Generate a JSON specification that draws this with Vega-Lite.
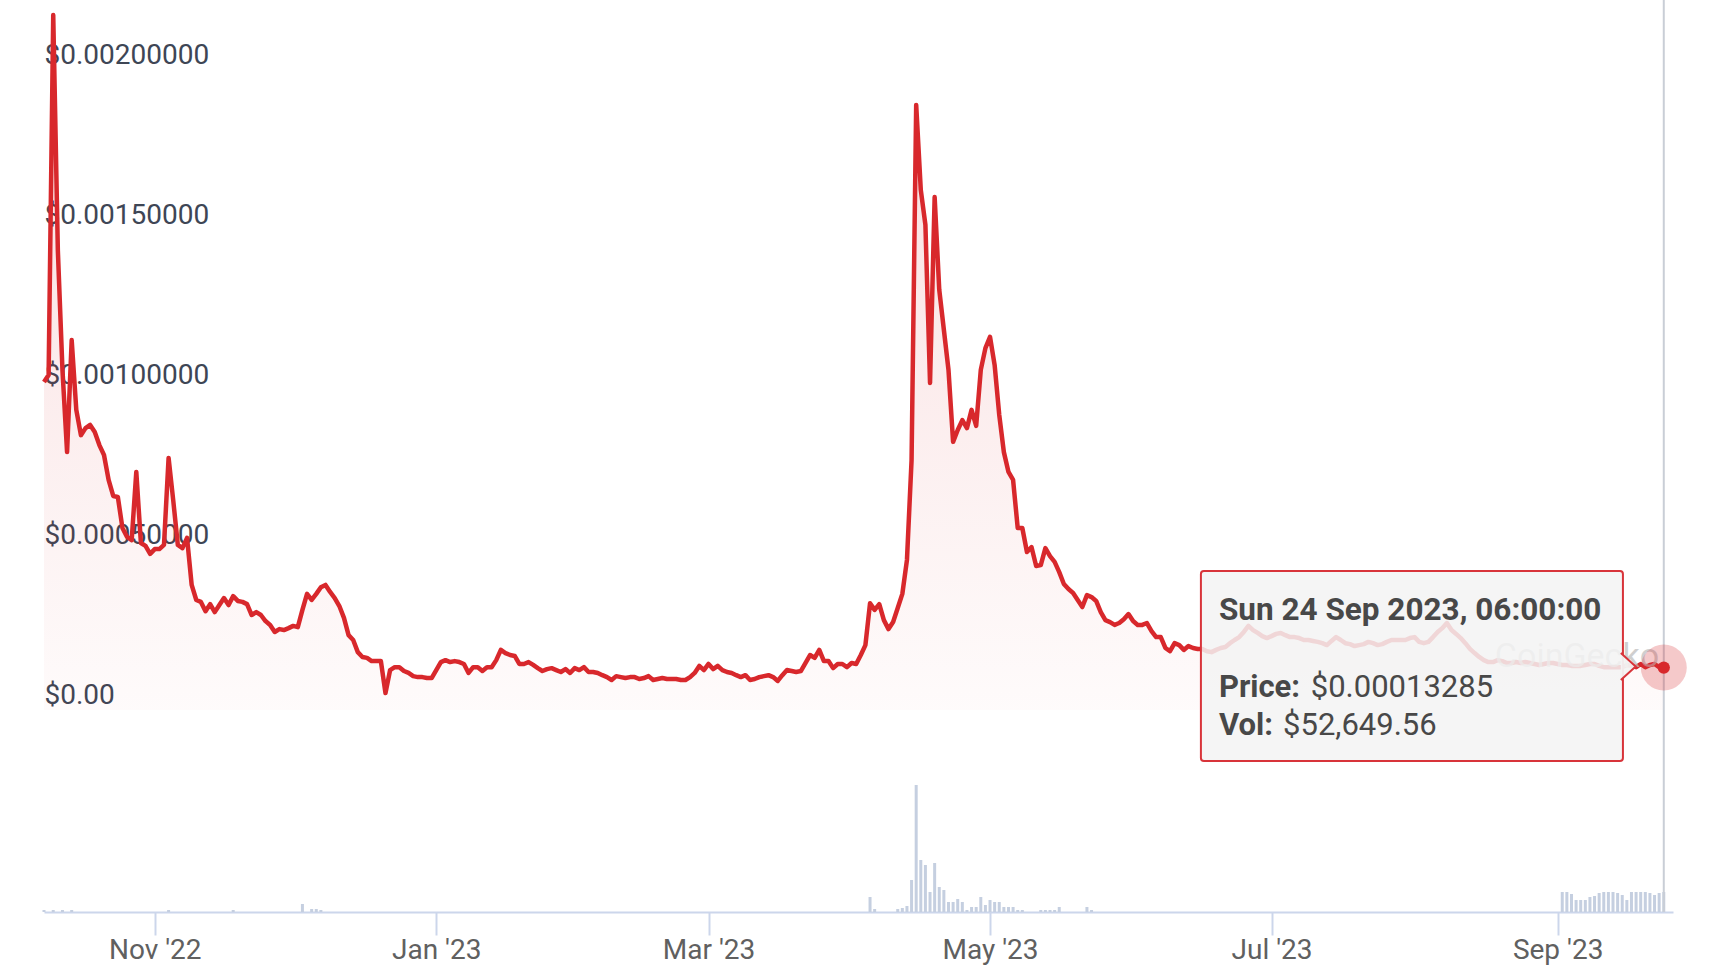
{
  "$schema": "https://vega.github.io/schema/vega-lite/v6.json",
  "width": 1629,
  "height": 912,
  "padding": {"left": 44, "top": 0, "right": 58, "bottom": 62},
  "autosize": {"type": "none"},
  "background": "#ffffff",
  "config": {"view": {"stroke": null}, "font": "Roboto", "text": {"font": "Roboto"}},
  "datasets": {
    "price": [
      {"d":"2022-10-08","p":0.001025},{"d":"2022-10-09","p":0.001047},{"d":"2022-10-10","p":0.002172},{"d":"2022-10-11","p":0.001437},{"d":"2022-10-12","p":0.001063},{"d":"2022-10-13","p":0.000806},{"d":"2022-10-14","p":0.001156},{"d":"2022-10-15","p":0.000938},{"d":"2022-10-16","p":0.000859},{"d":"2022-10-17","p":0.000881},{"d":"2022-10-18","p":0.000891},{"d":"2022-10-19","p":0.000869},{"d":"2022-10-20","p":0.000828},{"d":"2022-10-21","p":0.000797},{"d":"2022-10-22","p":0.000719},{"d":"2022-10-23","p":0.000669},{"d":"2022-10-24","p":0.000666},{"d":"2022-10-25","p":0.000569},{"d":"2022-10-26","p":0.000541},{"d":"2022-10-27","p":0.000531},{"d":"2022-10-28","p":0.000744},{"d":"2022-10-29","p":0.000522},{"d":"2022-10-30","p":0.000513},{"d":"2022-10-31","p":0.000488},
      {"d":"2022-11-01","p":0.000503},{"d":"2022-11-02","p":0.000503},{"d":"2022-11-03","p":0.000516},{"d":"2022-11-04","p":0.000788},{"d":"2022-11-05","p":0.000656},{"d":"2022-11-06","p":0.000516},{"d":"2022-11-07","p":0.000506},{"d":"2022-11-08","p":0.000538},{"d":"2022-11-09","p":0.000391},{"d":"2022-11-10","p":0.000344},{"d":"2022-11-11","p":0.000338},{"d":"2022-11-12","p":0.000309},{"d":"2022-11-13","p":0.000331},{"d":"2022-11-14","p":0.000306},{"d":"2022-11-15","p":0.000328},{"d":"2022-11-16","p":0.00035},{"d":"2022-11-17","p":0.000328},{"d":"2022-11-18","p":0.000356},{"d":"2022-11-19","p":0.000341},{"d":"2022-11-20","p":0.000338},{"d":"2022-11-21","p":0.000331},{"d":"2022-11-22","p":0.000297},{"d":"2022-11-23","p":0.000306},{"d":"2022-11-24","p":0.000297},{"d":"2022-11-25","p":0.000278},{"d":"2022-11-26","p":0.000266},{"d":"2022-11-27","p":0.000244},{"d":"2022-11-28","p":0.000253},{"d":"2022-11-29","p":0.00025},{"d":"2022-11-30","p":0.000256},
      {"d":"2022-12-01","p":0.000263},{"d":"2022-12-02","p":0.000259},{"d":"2022-12-03","p":0.000313},{"d":"2022-12-04","p":0.000363},{"d":"2022-12-05","p":0.000344},{"d":"2022-12-06","p":0.000363},{"d":"2022-12-07","p":0.000384},{"d":"2022-12-08","p":0.000391},{"d":"2022-12-09","p":0.000369},{"d":"2022-12-10","p":0.00035},{"d":"2022-12-11","p":0.000325},{"d":"2022-12-12","p":0.000288},{"d":"2022-12-13","p":0.000234},{"d":"2022-12-14","p":0.000219},{"d":"2022-12-15","p":0.000181},{"d":"2022-12-16","p":0.000166},{"d":"2022-12-17","p":0.000163},{"d":"2022-12-18","p":0.000153},{"d":"2022-12-19","p":0.000153},{"d":"2022-12-20","p":0.000153},{"d":"2022-12-21","p":0.000053},{"d":"2022-12-22","p":0.000125},{"d":"2022-12-23","p":0.000134},{"d":"2022-12-24","p":0.000134},{"d":"2022-12-25","p":0.000122},{"d":"2022-12-26","p":0.000116},{"d":"2022-12-27","p":0.000106},{"d":"2022-12-28","p":0.000103},{"d":"2022-12-29","p":0.000103},{"d":"2022-12-30","p":0.0001},{"d":"2022-12-31","p":0.0001},
      {"d":"2023-01-01","p":0.000125},{"d":"2023-01-02","p":0.00015},{"d":"2023-01-03","p":0.000156},{"d":"2023-01-04","p":0.00015},{"d":"2023-01-05","p":0.000153},{"d":"2023-01-06","p":0.00015},{"d":"2023-01-07","p":0.000144},{"d":"2023-01-08","p":0.000116},{"d":"2023-01-09","p":0.000134},{"d":"2023-01-10","p":0.000134},{"d":"2023-01-11","p":0.000122},{"d":"2023-01-12","p":0.000134},{"d":"2023-01-13","p":0.000134},{"d":"2023-01-14","p":0.000156},{"d":"2023-01-15","p":0.000188},{"d":"2023-01-16","p":0.000178},{"d":"2023-01-17","p":0.000172},{"d":"2023-01-18","p":0.000169},{"d":"2023-01-19","p":0.000144},{"d":"2023-01-20","p":0.000144},{"d":"2023-01-21","p":0.00015},{"d":"2023-01-22","p":0.000141},{"d":"2023-01-23","p":0.000131},{"d":"2023-01-24","p":0.000122},{"d":"2023-01-25","p":0.000128},{"d":"2023-01-26","p":0.000131},{"d":"2023-01-27","p":0.000125},{"d":"2023-01-28","p":0.000119},{"d":"2023-01-29","p":0.000128},{"d":"2023-01-30","p":0.000116},{"d":"2023-01-31","p":0.000131},
      {"d":"2023-02-01","p":0.000125},{"d":"2023-02-02","p":0.000134},{"d":"2023-02-03","p":0.000119},{"d":"2023-02-04","p":0.000119},{"d":"2023-02-05","p":0.000116},{"d":"2023-02-06","p":0.000109},{"d":"2023-02-07","p":0.000103},{"d":"2023-02-08","p":0.000094},{"d":"2023-02-09","p":0.000106},{"d":"2023-02-10","p":0.000103},{"d":"2023-02-11","p":0.0001},{"d":"2023-02-12","p":0.000103},{"d":"2023-02-13","p":0.000103},{"d":"2023-02-14","p":0.000097},{"d":"2023-02-15","p":0.0001},{"d":"2023-02-16","p":0.000106},{"d":"2023-02-17","p":0.000094},{"d":"2023-02-18","p":0.000097},{"d":"2023-02-19","p":0.0001},{"d":"2023-02-20","p":0.000097},{"d":"2023-02-21","p":0.000097},{"d":"2023-02-22","p":0.000097},{"d":"2023-02-23","p":0.000094},{"d":"2023-02-24","p":0.000094},{"d":"2023-02-25","p":0.000103},{"d":"2023-02-26","p":0.000116},{"d":"2023-02-27","p":0.000138},{"d":"2023-02-28","p":0.000125},
      {"d":"2023-03-01","p":0.000144},{"d":"2023-03-02","p":0.000128},{"d":"2023-03-03","p":0.000138},{"d":"2023-03-04","p":0.000125},{"d":"2023-03-05","p":0.000119},{"d":"2023-03-06","p":0.000116},{"d":"2023-03-07","p":0.000109},{"d":"2023-03-08","p":0.000103},{"d":"2023-03-09","p":0.000109},{"d":"2023-03-10","p":0.000094},{"d":"2023-03-11","p":0.000097},{"d":"2023-03-12","p":0.000103},{"d":"2023-03-13","p":0.000106},{"d":"2023-03-14","p":0.000109},{"d":"2023-03-15","p":0.000103},{"d":"2023-03-16","p":0.000091},{"d":"2023-03-17","p":0.000109},{"d":"2023-03-18","p":0.000125},{"d":"2023-03-19","p":0.000122},{"d":"2023-03-20","p":0.000119},{"d":"2023-03-21","p":0.000122},{"d":"2023-03-22","p":0.000147},{"d":"2023-03-23","p":0.000172},{"d":"2023-03-24","p":0.000163},{"d":"2023-03-25","p":0.000188},{"d":"2023-03-26","p":0.000153},{"d":"2023-03-27","p":0.000153},{"d":"2023-03-28","p":0.000131},{"d":"2023-03-29","p":0.000144},{"d":"2023-03-30","p":0.000144},{"d":"2023-03-31","p":0.000134},
      {"d":"2023-04-01","p":0.000147},{"d":"2023-04-02","p":0.000144},{"d":"2023-04-03","p":0.000172},{"d":"2023-04-04","p":0.000203},{"d":"2023-04-05","p":0.000334},{"d":"2023-04-06","p":0.000313},{"d":"2023-04-07","p":0.000331},{"d":"2023-04-08","p":0.000281},{"d":"2023-04-09","p":0.000253},{"d":"2023-04-10","p":0.000275},{"d":"2023-04-11","p":0.000319},{"d":"2023-04-12","p":0.000363},{"d":"2023-04-13","p":0.000469},{"d":"2023-04-14","p":0.000781},{"d":"2023-04-15","p":0.001891},{"d":"2023-04-16","p":0.001625},{"d":"2023-04-17","p":0.001516},{"d":"2023-04-18","p":0.001022},{"d":"2023-04-19","p":0.001603},{"d":"2023-04-20","p":0.001313},{"d":"2023-04-21","p":0.001188},{"d":"2023-04-22","p":0.001063},{"d":"2023-04-23","p":0.000838},{"d":"2023-04-24","p":0.000875},{"d":"2023-04-25","p":0.000906},{"d":"2023-04-26","p":0.000881},{"d":"2023-04-27","p":0.000938},{"d":"2023-04-28","p":0.000888},{"d":"2023-04-29","p":0.001063},{"d":"2023-04-30","p":0.001131},
      {"d":"2023-05-01","p":0.001166},{"d":"2023-05-02","p":0.001078},{"d":"2023-05-03","p":0.000922},{"d":"2023-05-04","p":0.000806},{"d":"2023-05-05","p":0.000744},{"d":"2023-05-06","p":0.000719},{"d":"2023-05-07","p":0.000569},{"d":"2023-05-08","p":0.000569},{"d":"2023-05-09","p":0.000494},{"d":"2023-05-10","p":0.000509},{"d":"2023-05-11","p":0.00045},{"d":"2023-05-12","p":0.000453},{"d":"2023-05-13","p":0.000506},{"d":"2023-05-14","p":0.000481},{"d":"2023-05-15","p":0.000463},{"d":"2023-05-16","p":0.000431},{"d":"2023-05-17","p":0.000394},{"d":"2023-05-18","p":0.000378},{"d":"2023-05-19","p":0.000366},{"d":"2023-05-20","p":0.000344},{"d":"2023-05-21","p":0.000322},{"d":"2023-05-22","p":0.000359},{"d":"2023-05-23","p":0.000353},{"d":"2023-05-24","p":0.000341},{"d":"2023-05-25","p":0.000306},{"d":"2023-05-26","p":0.000281},{"d":"2023-05-27","p":0.000275},{"d":"2023-05-28","p":0.000266},{"d":"2023-05-29","p":0.000272},{"d":"2023-05-30","p":0.000284},{"d":"2023-05-31","p":0.0003},
      {"d":"2023-06-01","p":0.000278},{"d":"2023-06-02","p":0.000266},{"d":"2023-06-03","p":0.000266},{"d":"2023-06-04","p":0.000272},{"d":"2023-06-05","p":0.000247},{"d":"2023-06-06","p":0.000228},{"d":"2023-06-07","p":0.000228},{"d":"2023-06-08","p":0.000194},{"d":"2023-06-09","p":0.000184},{"d":"2023-06-10","p":0.000209},{"d":"2023-06-11","p":0.000203},{"d":"2023-06-12","p":0.000188},{"d":"2023-06-13","p":0.0002},{"d":"2023-06-14","p":0.000194},{"d":"2023-06-15","p":0.000191},{"d":"2023-06-16","p":0.000191},{"d":"2023-06-17","p":0.000184},{"d":"2023-06-18","p":0.000181},{"d":"2023-06-19","p":0.000188},{"d":"2023-06-20","p":0.000194},{"d":"2023-06-21","p":0.000197},{"d":"2023-06-22","p":0.000209},{"d":"2023-06-23","p":0.000219},{"d":"2023-06-24","p":0.000228},{"d":"2023-06-25","p":0.000244},{"d":"2023-06-26","p":0.000263},{"d":"2023-06-27","p":0.00025},{"d":"2023-06-28","p":0.000241},{"d":"2023-06-29","p":0.000231},{"d":"2023-06-30","p":0.000225},
      {"d":"2023-07-01","p":0.000231},{"d":"2023-07-02","p":0.000238},{"d":"2023-07-03","p":0.000241},{"d":"2023-07-04","p":0.000234},{"d":"2023-07-05","p":0.000228},{"d":"2023-07-06","p":0.000228},{"d":"2023-07-07","p":0.000225},{"d":"2023-07-08","p":0.000219},{"d":"2023-07-09","p":0.000219},{"d":"2023-07-10","p":0.000216},{"d":"2023-07-11","p":0.000213},{"d":"2023-07-12","p":0.000209},{"d":"2023-07-13","p":0.000203},{"d":"2023-07-14","p":0.000216},{"d":"2023-07-15","p":0.000228},{"d":"2023-07-16","p":0.000219},{"d":"2023-07-17","p":0.000209},{"d":"2023-07-18","p":0.000206},{"d":"2023-07-19","p":0.0002},{"d":"2023-07-20","p":0.000203},{"d":"2023-07-21","p":0.000206},{"d":"2023-07-22","p":0.000213},{"d":"2023-07-23","p":0.000209},{"d":"2023-07-24","p":0.000203},{"d":"2023-07-25","p":0.000206},{"d":"2023-07-26","p":0.000213},{"d":"2023-07-27","p":0.000219},{"d":"2023-07-28","p":0.000219},{"d":"2023-07-29","p":0.000219},{"d":"2023-07-30","p":0.000219},{"d":"2023-07-31","p":0.000225},
      {"d":"2023-08-01","p":0.000228},{"d":"2023-08-02","p":0.000213},{"d":"2023-08-03","p":0.000209},{"d":"2023-08-04","p":0.000213},{"d":"2023-08-05","p":0.000228},{"d":"2023-08-06","p":0.000244},{"d":"2023-08-07","p":0.000256},{"d":"2023-08-08","p":0.000272},{"d":"2023-08-09","p":0.00025},{"d":"2023-08-10","p":0.000238},{"d":"2023-08-11","p":0.000225},{"d":"2023-08-12","p":0.000209},{"d":"2023-08-13","p":0.000191},{"d":"2023-08-14","p":0.000178},{"d":"2023-08-15","p":0.000166},{"d":"2023-08-16","p":0.000156},{"d":"2023-08-17","p":0.00015},{"d":"2023-08-18","p":0.00015},{"d":"2023-08-19","p":0.000156},{"d":"2023-08-20","p":0.000153},{"d":"2023-08-21","p":0.000147},{"d":"2023-08-22","p":0.000147},{"d":"2023-08-23","p":0.00015},{"d":"2023-08-24","p":0.000147},{"d":"2023-08-25","p":0.00015},{"d":"2023-08-26","p":0.000147},{"d":"2023-08-27","p":0.000144},{"d":"2023-08-28","p":0.000141},{"d":"2023-08-29","p":0.000144},{"d":"2023-08-30","p":0.000147},{"d":"2023-08-31","p":0.000147},
      {"d":"2023-09-01","p":0.000144},{"d":"2023-09-02","p":0.000141},{"d":"2023-09-03","p":0.000141},{"d":"2023-09-04","p":0.000138},{"d":"2023-09-05","p":0.000138},{"d":"2023-09-06","p":0.000138},{"d":"2023-09-07","p":0.000141},{"d":"2023-09-08","p":0.000144},{"d":"2023-09-09","p":0.000144},{"d":"2023-09-10","p":0.000138},{"d":"2023-09-11","p":0.000134},{"d":"2023-09-12","p":0.000134},{"d":"2023-09-13","p":0.000134},{"d":"2023-09-14","p":0.000134},{"d":"2023-09-15","p":0.000134},{"d":"2023-09-16","p":0.000141},{"d":"2023-09-17","p":0.000138},{"d":"2023-09-18","p":0.000134},{"d":"2023-09-19","p":0.000144},{"d":"2023-09-20","p":0.000134},{"d":"2023-09-21","p":0.000141},{"d":"2023-09-22","p":0.000144},{"d":"2023-09-23","p":0.000134},{"d":"2023-09-24","p":0.00013285}
    ],
    "vol": [
      {"d":"2022-10-08","v":5264},{"d":"2022-10-10","v":5264},{"d":"2022-10-12","v":5264},{"d":"2022-10-14","v":5264},{"d":"2022-11-04","v":5264},{"d":"2022-11-18","v":5264},
      {"d":"2022-12-03","v":21056},{"d":"2022-12-05","v":7896},{"d":"2022-12-06","v":7896},{"d":"2022-12-07","v":5264},
      {"d":"2023-04-05","v":39480},{"d":"2023-04-06","v":7896},{"d":"2023-04-11","v":7896},{"d":"2023-04-12","v":10528},{"d":"2023-04-13","v":15792},{"d":"2023-04-14","v":84224},{"d":"2023-04-15","v":334264},{"d":"2023-04-16","v":136864},{"d":"2023-04-17","v":123704},{"d":"2023-04-18","v":52640},{"d":"2023-04-19","v":128968},{"d":"2023-04-20","v":65800},{"d":"2023-04-21","v":57904},{"d":"2023-04-22","v":26320},{"d":"2023-04-23","v":26320},{"d":"2023-04-24","v":34216},{"d":"2023-04-25","v":26320},{"d":"2023-04-26","v":5264},{"d":"2023-04-27","v":13160},{"d":"2023-04-28","v":13160},{"d":"2023-04-29","v":39480},{"d":"2023-04-30","v":18424},
      {"d":"2023-05-01","v":31584},{"d":"2023-05-02","v":26320},{"d":"2023-05-03","v":26320},{"d":"2023-05-04","v":13160},{"d":"2023-05-05","v":13160},{"d":"2023-05-06","v":13160},{"d":"2023-05-07","v":5264},{"d":"2023-05-08","v":5264},{"d":"2023-05-12","v":5264},{"d":"2023-05-13","v":5264},{"d":"2023-05-14","v":5264},{"d":"2023-05-15","v":5264},{"d":"2023-05-16","v":13160},{"d":"2023-05-22","v":13160},{"d":"2023-05-23","v":5264},
      {"d":"2023-09-02","v":52640},{"d":"2023-09-03","v":52640},{"d":"2023-09-04","v":47376},{"d":"2023-09-05","v":31584},{"d":"2023-09-06","v":31584},{"d":"2023-09-07","v":31584},{"d":"2023-09-08","v":39480},{"d":"2023-09-09","v":42112},{"d":"2023-09-10","v":50008},{"d":"2023-09-11","v":52640},{"d":"2023-09-12","v":52640},{"d":"2023-09-13","v":52640},{"d":"2023-09-14","v":50008},{"d":"2023-09-15","v":44744},{"d":"2023-09-16","v":31584},{"d":"2023-09-17","v":52640},{"d":"2023-09-18","v":52640},{"d":"2023-09-19","v":52640},{"d":"2023-09-20","v":52640},{"d":"2023-09-21","v":50008},{"d":"2023-09-22","v":44744},{"d":"2023-09-23","v":50008},{"d":"2023-09-24","v":52649.56}
    ],
    "sel": [{"d":"2023-09-24","p":0.00013285,"v":52649.56}]
  },
  "layer": [
    {
      "data": {"name": "vol"},
      "mark": {"type": "bar", "width": 3, "color": "#c5cfe0"},
      "encoding": {
        "x": {"field": "d", "type": "temporal",
          "scale": {"type": "utc", "padding": 0, "domain": [{"year":2022,"month":10,"date":8,"utc":true},{"year":2023,"month":9,"date":26,"utc":true}]},
          "axis": {"title": null, "format": "%b '%y",
            "values": [{"year":2022,"month":11,"date":1,"utc":true},{"year":2023,"month":1,"date":1,"utc":true},{"year":2023,"month":3,"date":1,"utc":true},{"year":2023,"month":5,"date":1,"utc":true},{"year":2023,"month":7,"date":1,"utc":true},{"year":2023,"month":9,"date":1,"utc":true}],
            "grid": false, "domainColor": "#ccd6eb", "domainWidth": 2, "tickColor": "#ccd6eb", "tickWidth": 2, "tickSize": 23,
            "labelPadding": 1, "labelFontSize": 28, "labelFont": "Roboto", "labelColor": "#606060", "labelFlush": false}},
        "y": {"field": "v", "type": "quantitative", "scale": {"domain": [0, 2400000], "nice": false, "zero": true}, "axis": null}
      }
    },
    {
      "layer": [
        {
          "data": {"name": "price"},
          "mark": {"type": "area", "fill": {"gradient": "linear", "x1": 0, "y1": 0, "x2": 0, "y2": 1, "stops": [{"offset": 0, "color": "rgba(216,40,44,0.16)"}, {"offset": 1, "color": "rgba(216,40,44,0.02)"}]}},
          "encoding": {
            "x": {"field": "d", "type": "temporal", "scale": {"type": "utc", "padding": 0, "domain": [{"year":2022,"month":10,"date":8,"utc":true},{"year":2023,"month":9,"date":26,"utc":true}]}},
            "y": {"field": "p", "type": "quantitative",
              "scale": {"domain": [-0.000631, 0.00221875], "nice": false, "zero": false},
              "axis": {"title": null, "values": [0, 0.0005, 0.001, 0.0015, 0.002], "domain": false, "ticks": false, "tickSize": 0,
                "labelPadding": 0, "labelAlign": "left", "labelBaseline": "alphabetic", "labelOffset": -7, "labelFlush": false,
                "labelFontSize": 28, "labelFont": "Roboto", "labelColor": "#3e4655",
                "gridColor": "#eaeef2", "gridWidth": 2,
                "labelExpr": "datum.value == 0 ? '$0.00' : '$' + format(datum.value, '.8f')"}},
            "y2": {"datum": 0}
          }
        },
        {
          "data": {"name": "price"},
          "mark": {"type": "line", "color": "#d8282c", "strokeWidth": 4.5, "strokeJoin": "round"},
          "encoding": {
            "x": {"field": "d", "type": "temporal"},
            "y": {"field": "p", "type": "quantitative"}
          }
        },
        {
          "data": {"name": "sel"},
          "mark": {"type": "rule", "color": "#c9ced6", "strokeWidth": 2},
          "encoding": {"x": {"field": "d", "type": "temporal"}}
        },
        {
          "data": {"name": "sel"},
          "mark": {"type": "text", "text": "CoinGecko", "align": "left", "baseline": "alphabetic", "fontSize": 34, "color": "#bcbcbc", "opacity": 0.7},
          "encoding": {
            "x": {"datum": {"year":2023,"month":8,"date":18,"hours":9,"minutes":36,"utc":true}, "type": "temporal"},
            "y": {"datum": 0.000134, "type": "quantitative"}
          }
        },
        {
          "data": {"name": "sel"},
          "mark": {"type": "point", "shape": "circle", "filled": true, "size": 2116, "color": "#d8282c", "opacity": 0.25},
          "encoding": {
            "x": {"field": "d", "type": "temporal"},
            "y": {"field": "p", "type": "quantitative"}
          }
        },
        {
          "data": {"name": "sel"},
          "mark": {"type": "rect", "fill": "#f3f3f3", "fillOpacity": 0.86, "stroke": "#d8343a", "strokeWidth": 2, "cornerRadius": 3},
          "encoding": {
            "x": {"datum": {"year":2023,"month":6,"date":15,"hours":16,"minutes":48,"utc":true}, "type": "temporal"},
            "x2": {"datum": {"year":2023,"month":9,"date":15,"hours":3,"minutes":36,"utc":true}},
            "y": {"datum": 0.000434375, "type": "quantitative"},
            "y2": {"datum": -0.000159375}
          }
        },
        {
          "data": {"name": "sel"},
          "mark": {"type": "point", "shape": "M -0.6 -1 L 0.5 0 L -0.6 1", "size": 729, "fill": "#f3f3f3", "fillOpacity": 0.95, "stroke": "#d8343a", "strokeWidth": 2, "opacity": 1},
          "encoding": {
            "x": {"datum": {"year":2023,"month":9,"date":16,"hours":10,"minutes":48,"utc":true}, "type": "temporal"},
            "y": {"datum": 0.000136, "type": "quantitative"}
          }
        },
        {
          "data": {"name": "sel"},
          "mark": {"type": "text", "text": "Sun 24 Sep 2023, 06:00:00", "align": "left", "baseline": "alphabetic", "fontSize": 31.5, "fontWeight": "bold", "color": "#484848"},
          "encoding": {
            "x": {"datum": {"year":2023,"month":6,"date":19,"hours":14,"minutes":24,"utc":true}, "type": "temporal"},
            "y": {"datum": 0.00028125, "type": "quantitative"}
          }
        },
        {
          "data": {"name": "sel"},
          "mark": {"type": "text", "text": "Price:", "align": "left", "baseline": "alphabetic", "fontSize": 31, "fontWeight": "bold", "color": "#484848"},
          "encoding": {
            "x": {"datum": {"year":2023,"month":6,"date":19,"hours":14,"minutes":24,"utc":true}, "type": "temporal"},
            "y": {"datum": 0.000040625, "type": "quantitative"}
          }
        },
        {
          "data": {"name": "sel"},
          "mark": {"type": "text", "align": "left", "baseline": "alphabetic", "fontSize": 31, "color": "#484848"},
          "encoding": {
            "text": {"field": "p", "type": "quantitative", "format": "$.8f"},
            "x": {"datum": {"year":2023,"month":7,"date":9,"hours":12,"utc":true}, "type": "temporal"},
            "y": {"datum": 0.000040625, "type": "quantitative"}
          }
        },
        {
          "data": {"name": "sel"},
          "mark": {"type": "text", "text": "Vol:", "align": "left", "baseline": "alphabetic", "fontSize": 31, "fontWeight": "bold", "color": "#484848"},
          "encoding": {
            "x": {"datum": {"year":2023,"month":6,"date":19,"hours":14,"minutes":24,"utc":true}, "type": "temporal"},
            "y": {"datum": -0.000078125, "type": "quantitative"}
          }
        },
        {
          "data": {"name": "sel"},
          "mark": {"type": "text", "align": "left", "baseline": "alphabetic", "fontSize": 31, "color": "#484848"},
          "encoding": {
            "text": {"field": "v", "type": "quantitative", "format": "$,.2f"},
            "x": {"datum": {"year":2023,"month":7,"date":3,"hours":12,"utc":true}, "type": "temporal"},
            "y": {"datum": -0.000078125, "type": "quantitative"}
          }
        },
        {
          "data": {"name": "sel"},
          "mark": {"type": "point", "shape": "circle", "filled": true, "size": 150, "color": "#d8282c", "opacity": 1},
          "encoding": {
            "x": {"field": "d", "type": "temporal"},
            "y": {"field": "p", "type": "quantitative"}
          }
        }
      ]
    }
  ],
  "resolve": {"scale": {"y": "independent"}}
}
